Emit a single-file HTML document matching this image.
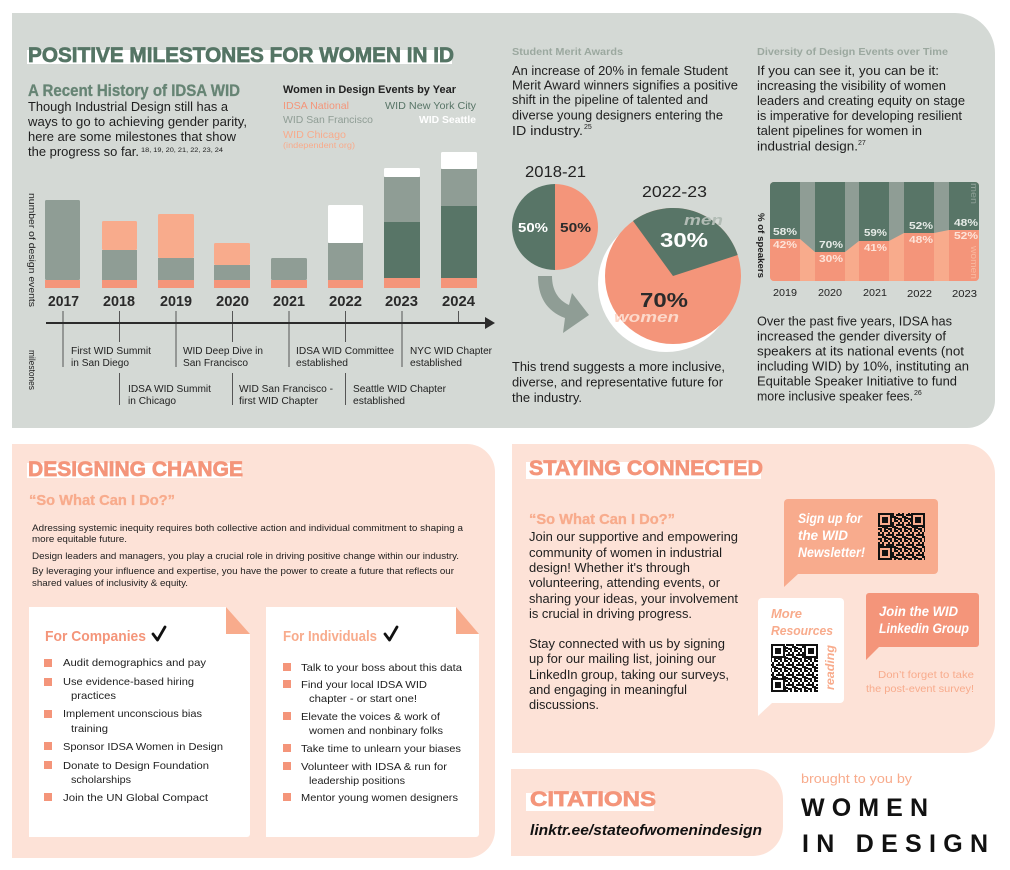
<!DOCTYPE html>
<html><head><meta charset="utf-8">
<style>
html,body{margin:0;padding:0;background:#fff;}
svg{display:block;}
text{font-family:"Liberation Sans",Arial,sans-serif;}
.b{font-weight:bold;}
.bi{font-weight:bold;font-style:italic;}
</style></head><body>
<svg width="1010" height="870" viewBox="0 0 1010 870" xmlns="http://www.w3.org/2000/svg">
<defs>
<pattern id="qr" width="10" height="10" patternUnits="userSpaceOnUse">
<rect x="0" y="0" width="2" height="2" fill="#111"/><rect x="4" y="0" width="4" height="2" fill="#111"/><rect x="2" y="2" width="2" height="2" fill="#111"/><rect x="8" y="2" width="2" height="4" fill="#111"/><rect x="0" y="4" width="4" height="2" fill="#111"/><rect x="6" y="4" width="2" height="2" fill="#111"/><rect x="4" y="6" width="2" height="4" fill="#111"/><rect x="0" y="8" width="2" height="2" fill="#111"/><rect x="8" y="8" width="2" height="2" fill="#111"/><rect x="6" y="7" width="2" height="2" fill="#111"/><rect x="2" y="6" width="2" height="2" fill="#111"/>
</pattern>
<clipPath id="chartclip"><rect x="770" y="182" width="209" height="99" rx="4"/></clipPath>
</defs>
<rect width="1010" height="870" fill="#fff"/>

<!-- ============ TOP GRAY PANEL ============ -->
<path d="M12,13 H955 A40,40 0 0 1 995,53 V400 A28,28 0 0 1 967,428 H12 Z" fill="#d4d9d5"/>

<rect x="27" y="50" width="425" height="14" fill="#fff"/>
<text x="28" y="62" class="b" font-size="21" fill="#557565" stroke="#557565" stroke-width="0.7" textLength="426" lengthAdjust="spacingAndGlyphs">POSITIVE MILESTONES FOR WOMEN IN ID</text>

<text x="28" y="96" class="b" font-size="17" fill="#668474" stroke="#668474" stroke-width="0.3" textLength="212" lengthAdjust="spacingAndGlyphs">A Recent History of IDSA WID</text>
<g font-size="13" fill="#1e1e1e">
<text x="28" y="111" textLength="200" lengthAdjust="spacingAndGlyphs">Though Industrial Design still has a</text>
<text x="28" y="126" textLength="219" lengthAdjust="spacingAndGlyphs">ways to go to achieving gender parity,</text>
<text x="28" y="141" textLength="208" lengthAdjust="spacingAndGlyphs">here are some milestones that show</text>
<text x="28" y="156" textLength="111" lengthAdjust="spacingAndGlyphs">the progress so far.</text>
</g>
<text x="141" y="152" font-size="6.5" fill="#1e1e1e" textLength="82" lengthAdjust="spacingAndGlyphs">18, 19, 20, 21, 22, 23, 24</text>

<!-- legend -->
<text x="283" y="93" class="b" font-size="11" fill="#222" textLength="173" lengthAdjust="spacingAndGlyphs">Women in Design Events by Year</text>
<g font-size="10.5">
<text x="283" y="109" fill="#f4957a" textLength="66" lengthAdjust="spacingAndGlyphs">IDSA National</text>
<text x="385" y="109" fill="#587567" textLength="91" lengthAdjust="spacingAndGlyphs">WID New York City</text>
<text x="283" y="123" fill="#8f9d95" textLength="90" lengthAdjust="spacingAndGlyphs">WID San Francisco</text>
<text x="419" y="123" fill="#fff" class="b" textLength="57" lengthAdjust="spacingAndGlyphs">WID Seattle</text>
<text x="283" y="138" fill="#f8ab8c" textLength="63" lengthAdjust="spacingAndGlyphs">WID Chicago</text>
</g>
<text x="283" y="148" font-size="8" fill="#f8ab8c" textLength="72" lengthAdjust="spacingAndGlyphs">(independent org)</text>

<!-- bars -->
<g>
<rect x="45" y="200" width="35" height="80" fill="#8f9d95" rx="1.5"/>
<rect x="45" y="280" width="35" height="8" fill="#f4957a"/>

<rect x="102" y="221" width="35" height="29" fill="#f8ab8c" rx="1.5"/>
<rect x="102" y="250" width="35" height="30" fill="#8f9d95"/>
<rect x="102" y="280" width="35" height="8" fill="#f4957a"/>

<rect x="158" y="214" width="36" height="44" fill="#f8ab8c" rx="1.5"/>
<rect x="158" y="258" width="36" height="22" fill="#8f9d95"/>
<rect x="158" y="280" width="36" height="8" fill="#f4957a"/>

<rect x="214" y="243" width="36" height="22" fill="#f8ab8c" rx="1.5"/>
<rect x="214" y="265" width="36" height="15" fill="#8f9d95"/>
<rect x="214" y="280" width="36" height="8" fill="#f4957a"/>

<rect x="271" y="258" width="36" height="22" fill="#8f9d95" rx="1.5"/>
<rect x="271" y="280" width="36" height="8" fill="#f4957a"/>

<rect x="328" y="205" width="35" height="38" fill="#fff" rx="1.5"/>
<rect x="328" y="243" width="35" height="37" fill="#8f9d95"/>
<rect x="328" y="280" width="35" height="8" fill="#f4957a"/>

<rect x="384" y="168" width="36" height="9" fill="#fff" rx="1.5"/>
<rect x="384" y="177" width="36" height="45" fill="#8f9d95"/>
<rect x="384" y="222" width="36" height="56" fill="#587567"/>
<rect x="384" y="278" width="36" height="10" fill="#f4957a"/>

<rect x="441" y="152" width="36" height="17" fill="#fff" rx="1.5"/>
<rect x="441" y="169" width="36" height="37" fill="#8f9d95"/>
<rect x="441" y="206" width="36" height="72" fill="#587567"/>
<rect x="441" y="278" width="36" height="10" fill="#f4957a"/>
</g>

<g class="b" font-size="15" fill="#2a2a2a">
<text x="48" y="306" textLength="31" lengthAdjust="spacingAndGlyphs">2017</text>
<text x="103" y="306" textLength="32" lengthAdjust="spacingAndGlyphs">2018</text>
<text x="160" y="306" textLength="32" lengthAdjust="spacingAndGlyphs">2019</text>
<text x="216" y="306" textLength="33" lengthAdjust="spacingAndGlyphs">2020</text>
<text x="273" y="306" textLength="32" lengthAdjust="spacingAndGlyphs">2021</text>
<text x="329" y="306" textLength="33" lengthAdjust="spacingAndGlyphs">2022</text>
<text x="385" y="306" textLength="33" lengthAdjust="spacingAndGlyphs">2023</text>
<text x="442" y="306" textLength="33" lengthAdjust="spacingAndGlyphs">2024</text>
</g>

<text transform="translate(29,193) rotate(90)" font-size="9.5" fill="#222" textLength="114" lengthAdjust="spacingAndGlyphs">number of design events</text>
<text transform="translate(29,350) rotate(90)" font-size="9.5" fill="#222" textLength="40" lengthAdjust="spacingAndGlyphs">milestones</text>

<!-- timeline -->
<g stroke="#555" stroke-width="1">
<line x1="63" y1="311" x2="63" y2="367"/>
<line x1="119.5" y1="311" x2="119.5" y2="342"/>
<line x1="119.5" y1="373" x2="119.5" y2="405"/>
<line x1="176" y1="311" x2="176" y2="367"/>
<line x1="232.5" y1="311" x2="232.5" y2="342"/>
<line x1="232.5" y1="373" x2="232.5" y2="405"/>
<line x1="289" y1="311" x2="289" y2="367"/>
<line x1="345.5" y1="311" x2="345.5" y2="342"/>
<line x1="345.5" y1="373" x2="345.5" y2="405"/>
<line x1="402" y1="311" x2="402" y2="367"/>
<line x1="458.5" y1="311" x2="458.5" y2="323"/>
</g>
<line x1="46" y1="323" x2="487" y2="323" stroke="#2b2b2b" stroke-width="2"/>
<polygon points="485,317 495,323 485,329" fill="#2b2b2b"/>

<g font-size="10.5" fill="#222">
<text x="71" y="354" textLength="80" lengthAdjust="spacingAndGlyphs">First WID Summit</text>
<text x="71" y="366" textLength="58" lengthAdjust="spacingAndGlyphs">in San Diego</text>
<text x="128" y="392" textLength="83" lengthAdjust="spacingAndGlyphs">IDSA WID Summit</text>
<text x="128" y="404" textLength="48" lengthAdjust="spacingAndGlyphs">in Chicago</text>
<text x="183" y="354" textLength="80" lengthAdjust="spacingAndGlyphs">WID Deep Dive in</text>
<text x="183" y="366" textLength="65" lengthAdjust="spacingAndGlyphs">San Francisco</text>
<text x="239" y="392" textLength="94" lengthAdjust="spacingAndGlyphs">WID San Francisco -</text>
<text x="239" y="404" textLength="79" lengthAdjust="spacingAndGlyphs">first WID Chapter</text>
<text x="296" y="354" textLength="98" lengthAdjust="spacingAndGlyphs">IDSA WID Committee</text>
<text x="296" y="366" textLength="52" lengthAdjust="spacingAndGlyphs">established</text>
<text x="353" y="392" textLength="93" lengthAdjust="spacingAndGlyphs">Seattle WID Chapter</text>
<text x="353" y="404" textLength="52" lengthAdjust="spacingAndGlyphs">established</text>
<text x="410" y="354" textLength="82" lengthAdjust="spacingAndGlyphs">NYC WID Chapter</text>
<text x="410" y="366" textLength="52" lengthAdjust="spacingAndGlyphs">established</text>
</g>

<!-- Student Merit Awards -->
<text x="512" y="55" class="b" font-size="10.5" fill="#9ba89f" textLength="111" lengthAdjust="spacingAndGlyphs">Student Merit Awards</text>
<g font-size="13" fill="#1e1e1e">
<text x="512" y="75" textLength="216" lengthAdjust="spacingAndGlyphs">An increase of 20% in female Student</text>
<text x="512" y="89.5" textLength="226" lengthAdjust="spacingAndGlyphs">Merit Award winners signifies a positive</text>
<text x="512" y="104" textLength="196" lengthAdjust="spacingAndGlyphs">shift in the pipeline of talented and</text>
<text x="512" y="119.5" textLength="211" lengthAdjust="spacingAndGlyphs">diverse young designers entering the</text>
<text x="512" y="135" textLength="71" lengthAdjust="spacingAndGlyphs">ID industry.</text>
</g>
<text x="584" y="129" font-size="7" fill="#1e1e1e">25</text>

<text x="525" y="177" font-size="16" fill="#222" textLength="61" lengthAdjust="spacingAndGlyphs">2018-21</text>
<text x="642" y="197" font-size="16" fill="#222" textLength="65" lengthAdjust="spacingAndGlyphs">2022-23</text>

<!-- small pie -->
<path d="M555,184 A43,43 0 0 0 555,270 Z" fill="#587567"/>
<path d="M555,184 A43,43 0 0 1 555,270 Z" fill="#f4957a"/>
<text x="518" y="232" class="b" font-size="13" fill="#fff" textLength="30" lengthAdjust="spacingAndGlyphs">50%</text>
<text x="560" y="232" class="b" font-size="13" fill="#2b2b2b" textLength="31" lengthAdjust="spacingAndGlyphs">50%</text>

<!-- arrow -->
<path d="M538,276 C538,296 546,311 565,318 L563,333 L589,315 L572,293 L569,305 C558,300 552,290 552,276 Z" fill="#8f9d95"/>

<!-- big pie -->
<circle cx="666" cy="284" r="68" fill="#fff"/>
<circle cx="673" cy="276" r="68" fill="#f4957a"/>
<path d="M673,276 L633,221 A68,68 0 0 1 737.7,255 Z" fill="#587567"/>
<text x="684" y="225" class="bi" font-size="15" fill="#b2bcb5" textLength="39" lengthAdjust="spacingAndGlyphs">men</text>
<text x="660" y="247" class="b" font-size="20" fill="#fff" textLength="48" lengthAdjust="spacingAndGlyphs">30%</text>
<text x="640" y="307" class="b" font-size="20" fill="#2b2b2b" textLength="48" lengthAdjust="spacingAndGlyphs">70%</text>
<text x="614" y="322" class="bi" font-size="15" fill="#fcd9cb" textLength="65" lengthAdjust="spacingAndGlyphs">women</text>

<g font-size="13" fill="#1e1e1e">
<text x="512" y="371" textLength="213" lengthAdjust="spacingAndGlyphs">This trend suggests a more inclusive,</text>
<text x="512" y="386.5" textLength="211" lengthAdjust="spacingAndGlyphs">diverse, and representative future for</text>
<text x="512" y="402" textLength="70" lengthAdjust="spacingAndGlyphs">the industry.</text>
</g>

<!-- Diversity of design events -->
<text x="757" y="55" class="b" font-size="10.5" fill="#9ba89f" textLength="191" lengthAdjust="spacingAndGlyphs">Diversity of Design Events over Time</text>
<g font-size="13" fill="#1e1e1e">
<text x="757" y="75" textLength="182" lengthAdjust="spacingAndGlyphs">If you can see it, you can be it:</text>
<text x="757" y="90" textLength="189" lengthAdjust="spacingAndGlyphs">increasing the visibility of women</text>
<text x="757" y="105" textLength="208" lengthAdjust="spacingAndGlyphs">leaders and creating equity on stage</text>
<text x="757" y="120" textLength="205" lengthAdjust="spacingAndGlyphs">is imperative for developing resilient</text>
<text x="757" y="135" textLength="165" lengthAdjust="spacingAndGlyphs">talent pipelines for women in</text>
<text x="757" y="150.5" textLength="101" lengthAdjust="spacingAndGlyphs">industrial design.</text>
</g>
<text x="858" y="145" font-size="7" fill="#1e1e1e">27</text>

<!-- speaker chart -->
<g clip-path="url(#chartclip)">
<rect x="770" y="182" width="209" height="99" fill="#f8ab8c"/>
<polygon points="770,182 979,182 979,230 949,230 934,233 904,233 889,241 859,241 845,252 815,252 800,239 770,239" fill="#8f9d95"/>
<rect x="770" y="182" width="30" height="57" fill="#587567"/>
<rect x="770" y="239" width="30" height="42" fill="#f4957a"/>
<rect x="815" y="182" width="30" height="70" fill="#587567"/>
<rect x="815" y="252" width="30" height="29" fill="#f4957a"/>
<rect x="859" y="182" width="30" height="59" fill="#587567"/>
<rect x="859" y="241" width="30" height="40" fill="#f4957a"/>
<rect x="904" y="182" width="30" height="51" fill="#587567"/>
<rect x="904" y="233" width="30" height="48" fill="#f4957a"/>
<rect x="949" y="182" width="30" height="48" fill="#587567"/>
<rect x="949" y="230" width="30" height="51" fill="#f4957a"/>
</g>
<g font-size="10" class="b">
<text x="773" y="235" fill="#e6ebe7" textLength="24" lengthAdjust="spacingAndGlyphs">58%</text>
<text x="773" y="248" fill="#fde3d8" textLength="24" lengthAdjust="spacingAndGlyphs">42%</text>
<text x="819" y="248" fill="#e6ebe7" textLength="24" lengthAdjust="spacingAndGlyphs">70%</text>
<text x="819" y="262" fill="#fde3d8" textLength="24" lengthAdjust="spacingAndGlyphs">30%</text>
<text x="864" y="236" fill="#e6ebe7" textLength="23" lengthAdjust="spacingAndGlyphs">59%</text>
<text x="864" y="251" fill="#fde3d8" textLength="23" lengthAdjust="spacingAndGlyphs">41%</text>
<text x="909" y="229" fill="#e6ebe7" textLength="24" lengthAdjust="spacingAndGlyphs">52%</text>
<text x="909" y="243" fill="#fde3d8" textLength="24" lengthAdjust="spacingAndGlyphs">48%</text>
<text x="954" y="226" fill="#e6ebe7" textLength="24" lengthAdjust="spacingAndGlyphs">48%</text>
<text x="954" y="239" fill="#fde3d8" textLength="24" lengthAdjust="spacingAndGlyphs">52%</text>
</g>
<text transform="translate(971,183) rotate(90)" font-size="9" fill="#8fa097" textLength="21" lengthAdjust="spacingAndGlyphs">men</text>
<text transform="translate(971,246) rotate(90)" font-size="9" fill="#f9b89f" textLength="33" lengthAdjust="spacingAndGlyphs">women</text>
<text transform="translate(758,213) rotate(90)" class="b" font-size="9.5" fill="#222" textLength="65" lengthAdjust="spacingAndGlyphs">% of speakers</text>
<g font-size="10.5" fill="#222">
<text x="773" y="296" textLength="24" lengthAdjust="spacingAndGlyphs">2019</text>
<text x="818" y="296" textLength="24" lengthAdjust="spacingAndGlyphs">2020</text>
<text x="863" y="296" textLength="24" lengthAdjust="spacingAndGlyphs">2021</text>
<text x="907" y="297" textLength="25" lengthAdjust="spacingAndGlyphs">2022</text>
<text x="952" y="297" textLength="25" lengthAdjust="spacingAndGlyphs">2023</text>
</g>

<g font-size="13" fill="#1e1e1e">
<text x="757" y="325.5" textLength="195" lengthAdjust="spacingAndGlyphs">Over the past five years, IDSA has</text>
<text x="757" y="340.5" textLength="189" lengthAdjust="spacingAndGlyphs">increased the gender diversity of</text>
<text x="757" y="355.5" textLength="207" lengthAdjust="spacingAndGlyphs">speakers at its national events (not</text>
<text x="757" y="370.5" textLength="212" lengthAdjust="spacingAndGlyphs">including WID) by 10%, instituting an</text>
<text x="757" y="385.5" textLength="200" lengthAdjust="spacingAndGlyphs">Equitable Speaker Initiative to fund</text>
<text x="757" y="400.5" textLength="156" lengthAdjust="spacingAndGlyphs">more inclusive speaker fees.</text>
</g>
<text x="914" y="395" font-size="7" fill="#1e1e1e">26</text>

<!-- ============ DESIGNING CHANGE ============ -->
<path d="M12,444 H467 A28,28 0 0 1 495,472 V830 A28,28 0 0 1 467,858 H12 Z" fill="#fde2d7"/>
<rect x="27" y="463" width="214" height="15" fill="#fff"/>
<text x="28" y="476" class="b" font-size="21" fill="#f4957a" stroke="#f4957a" stroke-width="0.7" textLength="215" lengthAdjust="spacingAndGlyphs">DESIGNING CHANGE</text>
<text x="29" y="505" class="b" font-size="15" fill="#f8ab8c" stroke="#f8ab8c" stroke-width="0.3" textLength="146" lengthAdjust="spacingAndGlyphs">“So What Can I Do?”</text>
<g font-size="9.5" fill="#1e1e1e">
<text x="32" y="531" textLength="431" lengthAdjust="spacingAndGlyphs">Adressing systemic inequity requires both collective action and individual commitment to shaping a</text>
<text x="32" y="542" textLength="95" lengthAdjust="spacingAndGlyphs">more equitable future.</text>
<text x="32" y="559" textLength="427" lengthAdjust="spacingAndGlyphs">Design leaders and managers, you play a crucial role in driving positive change within our industry.</text>
<text x="32" y="574" textLength="422" lengthAdjust="spacingAndGlyphs">By leveraging your influence and expertise, you have the power to create a future that reflects our</text>
<text x="32" y="586" textLength="156" lengthAdjust="spacingAndGlyphs">shared values of inclusivity &amp; equity.</text>
</g>

<!-- card 1 -->
<path d="M29,607 H226 L250,634 V834 A3,3 0 0 1 247,837 H29 Z" fill="#fff"/>
<polygon points="226,607 226,634 250,634" fill="#f8ab8c"/>
<text x="45" y="641" class="b" font-size="15" fill="#f4957a" textLength="101" lengthAdjust="spacingAndGlyphs">For Companies</text>
<path d="M153,634 L157.5,640 L165,627" fill="none" stroke="#111" stroke-width="2.8" stroke-linecap="round" stroke-linejoin="round"/>
<g fill="#f4957a">
<rect x="44" y="659" width="8" height="8"/>
<rect x="44" y="678" width="8" height="8"/>
<rect x="44" y="710" width="8" height="8"/>
<rect x="44" y="742" width="8" height="8"/>
<rect x="44" y="761" width="8" height="8"/>
<rect x="44" y="793" width="8" height="8"/>
</g>
<g font-size="10.5" fill="#1e1e1e">
<text x="63" y="666" textLength="143" lengthAdjust="spacingAndGlyphs">Audit demographics and pay</text>
<text x="63" y="685" textLength="131" lengthAdjust="spacingAndGlyphs">Use evidence-based hiring</text>
<text x="71" y="699" textLength="45" lengthAdjust="spacingAndGlyphs">practices</text>
<text x="63" y="717" textLength="139" lengthAdjust="spacingAndGlyphs">Implement unconscious bias</text>
<text x="71" y="732" textLength="37" lengthAdjust="spacingAndGlyphs">training</text>
<text x="63" y="750" textLength="160" lengthAdjust="spacingAndGlyphs">Sponsor IDSA Women in Design</text>
<text x="63" y="769" textLength="146" lengthAdjust="spacingAndGlyphs">Donate to Design Foundation</text>
<text x="71" y="783" textLength="60" lengthAdjust="spacingAndGlyphs">scholarships</text>
<text x="63" y="801" textLength="145" lengthAdjust="spacingAndGlyphs">Join the UN Global Compact</text>
</g>

<!-- card 2 -->
<path d="M266,607 H456 L479,634 V834 A3,3 0 0 1 476,837 H266 Z" fill="#fff"/>
<polygon points="456,607 456,634 479,634" fill="#f8ab8c"/>
<text x="283" y="641" class="b" font-size="15" fill="#f8ab8c" textLength="94" lengthAdjust="spacingAndGlyphs">For Individuals</text>
<path d="M385,634 L389.5,640 L397,627" fill="none" stroke="#111" stroke-width="2.8" stroke-linecap="round" stroke-linejoin="round"/>
<g fill="#f4957a">
<rect x="283" y="663" width="8" height="8"/>
<rect x="283" y="680" width="8" height="8"/>
<rect x="283" y="712" width="8" height="8"/>
<rect x="283" y="744" width="8" height="8"/>
<rect x="283" y="762" width="8" height="8"/>
<rect x="283" y="793" width="8" height="8"/>
</g>
<g font-size="10.5" fill="#1e1e1e">
<text x="301" y="671" textLength="161" lengthAdjust="spacingAndGlyphs">Talk to your boss about this data</text>
<text x="301" y="688" textLength="126" lengthAdjust="spacingAndGlyphs">Find your local IDSA WID</text>
<text x="309" y="702" textLength="108" lengthAdjust="spacingAndGlyphs">chapter - or start one!</text>
<text x="301" y="720" textLength="139" lengthAdjust="spacingAndGlyphs">Elevate the voices &amp; work of</text>
<text x="309" y="734" textLength="134" lengthAdjust="spacingAndGlyphs">women and nonbinary folks</text>
<text x="301" y="752" textLength="160" lengthAdjust="spacingAndGlyphs">Take time to unlearn your biases</text>
<text x="301" y="770" textLength="146" lengthAdjust="spacingAndGlyphs">Volunteer with IDSA &amp; run for</text>
<text x="309" y="784" textLength="96" lengthAdjust="spacingAndGlyphs">leadership positions</text>
<text x="301" y="801" textLength="157" lengthAdjust="spacingAndGlyphs">Mentor young women designers</text>
</g>

<!-- ============ STAYING CONNECTED ============ -->
<path d="M512,444 H965 A30,30 0 0 1 995,474 V723 A30,30 0 0 1 965,753 H512 Z" fill="#fde2d7"/>
<rect x="526" y="462" width="235" height="17" fill="#fff"/>
<text x="529" y="475" class="b" font-size="21" fill="#f4957a" stroke="#f4957a" stroke-width="0.7" textLength="234" lengthAdjust="spacingAndGlyphs">STAYING CONNECTED</text>
<text x="529" y="524" class="b" font-size="15" fill="#f8ab8c" stroke="#f8ab8c" stroke-width="0.3" textLength="146" lengthAdjust="spacingAndGlyphs">“So What Can I Do?”</text>
<g font-size="13" fill="#1e1e1e">
<text x="529" y="541" textLength="209" lengthAdjust="spacingAndGlyphs">Join our supportive and empowering</text>
<text x="529" y="557" textLength="193" lengthAdjust="spacingAndGlyphs">community of women in industrial</text>
<text x="529" y="572" textLength="161" lengthAdjust="spacingAndGlyphs">design! Whether it's through</text>
<text x="529" y="587" textLength="191" lengthAdjust="spacingAndGlyphs">volunteering, attending events, or</text>
<text x="529" y="603" textLength="209" lengthAdjust="spacingAndGlyphs">sharing your ideas, your involvement</text>
<text x="529" y="618" textLength="163" lengthAdjust="spacingAndGlyphs">is crucial in driving progress.</text>
<text x="529" y="648" textLength="196" lengthAdjust="spacingAndGlyphs">Stay connected with us by signing</text>
<text x="529" y="663" textLength="187" lengthAdjust="spacingAndGlyphs">up for our mailing list, joining our</text>
<text x="529" y="679" textLength="200" lengthAdjust="spacingAndGlyphs">LinkedIn group, taking our surveys,</text>
<text x="529" y="694" textLength="158" lengthAdjust="spacingAndGlyphs">and engaging in meaningful</text>
<text x="529" y="709" textLength="70" lengthAdjust="spacingAndGlyphs">discussions.</text>
</g>

<!-- bubble 1 -->
<rect x="784" y="499" width="154" height="75" rx="4" fill="#f8ab8d"/>
<polygon points="784,570 784,587 798,574" fill="#f8ab8d"/>
<g class="bi" font-size="13.5" fill="#fff">
<text x="798" y="523" textLength="64" lengthAdjust="spacingAndGlyphs">Sign up for</text>
<text x="798" y="540" textLength="50" lengthAdjust="spacingAndGlyphs">the WID</text>
<text x="798" y="557" textLength="67" lengthAdjust="spacingAndGlyphs">Newsletter!</text>
</g>
<rect x="878" y="513" width="47" height="47" fill="url(#qr)"/>
<rect x="878" y="513" width="14" height="14" fill="#111"/><rect x="880" y="515" width="10" height="10" fill="#f8ab8d"/><rect x="882" y="517" width="6" height="6" fill="#111"/>
<rect x="911" y="513" width="14" height="14" fill="#111"/><rect x="913" y="515" width="10" height="10" fill="#f8ab8d"/><rect x="915" y="517" width="6" height="6" fill="#111"/>
<rect x="878" y="546" width="14" height="14" fill="#111"/><rect x="880" y="548" width="10" height="10" fill="#f8ab8d"/><rect x="882" y="550" width="6" height="6" fill="#111"/>

<!-- bubble 2 -->
<rect x="758" y="598" width="86" height="105" rx="4" fill="#fff"/>
<polygon points="758,699 758,716 772,703" fill="#fff"/>
<g class="bi" font-size="13" fill="#f8ab8c">
<text x="771" y="618" textLength="31" lengthAdjust="spacingAndGlyphs">More</text>
<text x="771" y="635" textLength="62" lengthAdjust="spacingAndGlyphs">Resources</text>
</g>
<rect x="771" y="644" width="47" height="48" fill="url(#qr)"/>
<rect x="771" y="644" width="14" height="14" fill="#111"/><rect x="773" y="646" width="10" height="10" fill="#fff"/><rect x="775" y="648" width="6" height="6" fill="#111"/>
<rect x="804" y="644" width="14" height="14" fill="#111"/><rect x="806" y="646" width="10" height="10" fill="#fff"/><rect x="808" y="648" width="6" height="6" fill="#111"/>
<rect x="771" y="678" width="14" height="14" fill="#111"/><rect x="773" y="680" width="10" height="10" fill="#fff"/><rect x="775" y="682" width="6" height="6" fill="#111"/>
<text transform="translate(834,690) rotate(-90)" class="bi" font-size="12" fill="#f8ab8c" textLength="45" lengthAdjust="spacingAndGlyphs">reading</text>

<!-- bubble 3 -->
<rect x="866" y="593" width="113" height="54" rx="3" fill="#f4957a"/>
<polygon points="866,643 866,660 879,647" fill="#f4957a"/>
<g class="bi" font-size="13.5" fill="#fff">
<text x="879" y="616" textLength="79" lengthAdjust="spacingAndGlyphs">Join the WID</text>
<text x="879" y="633" textLength="90" lengthAdjust="spacingAndGlyphs">Linkedin Group</text>
</g>
<g font-size="10" fill="#f8ab8c">
<text x="878" y="678" textLength="96" lengthAdjust="spacingAndGlyphs">Don’t forget to take</text>
<text x="866" y="692" textLength="108" lengthAdjust="spacingAndGlyphs">the post-event survey!</text>
</g>

<!-- ============ CITATIONS ============ -->
<path d="M511,769 H753 A30,30 0 0 1 783,799 V826 A30,30 0 0 1 753,856 H511 Z" fill="#fde2d7"/>
<rect x="526" y="793" width="128" height="18" fill="#fff"/>
<text x="530" y="806" class="b" font-size="21" fill="#f4957a" stroke="#f4957a" stroke-width="0.7" textLength="126" lengthAdjust="spacingAndGlyphs">CITATIONS</text>
<text x="530" y="835" class="bi" font-size="14.5" fill="#111" textLength="232" lengthAdjust="spacingAndGlyphs">linktr.ee/stateofwomenindesign</text>

<text x="801" y="783" font-size="13" fill="#f8ab8c" textLength="111" lengthAdjust="spacingAndGlyphs">brought to you by</text>
<text x="801" y="816" class="b" font-size="25" fill="#111" textLength="127" lengthAdjust="spacing">WOMEN</text>
<text x="802" y="852" class="b" font-size="25" fill="#111" textLength="186" lengthAdjust="spacing">IN DESIGN</text>
</svg>
</body></html>
